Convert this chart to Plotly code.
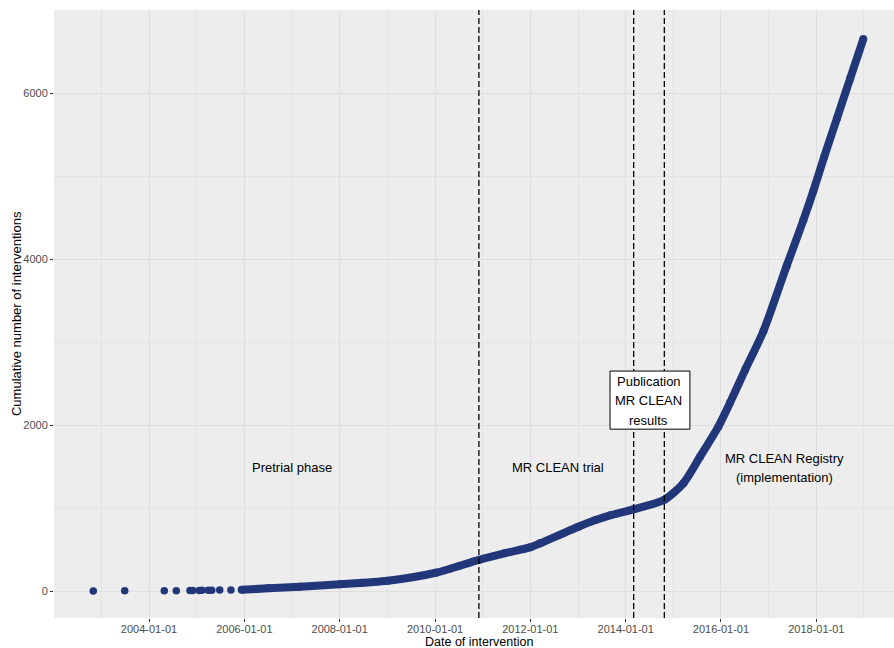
import plotly.graph_objects as go

# Early, sparsely spaced interventions (one dot each)
early_dates = ["2002-10-31", "2003-06-29", "2004-04-27", "2004-07-28", "2004-11-10",
               "2004-12-01", "2005-01-20", "2005-02-10", "2005-03-30", "2005-04-26",
               "2005-06-26", "2005-09-20"]
early_counts = [1, 2, 3, 4, 5, 6, 7, 8, 9, 10, 11, 12]

# Cumulative count from the point where interventions become dense
dense_dates = ["2005-12-11", "2006-07-01", "2007-03-03", "2008-01-04", "2009-01-03",
               "2010-01-06", "2010-12-03", "2011-06-21", "2011-12-30", "2012-03-16",
               "2013-01-03", "2013-05-15", "2013-09-10", "2014-03-01", "2014-10-24",
               "2015-03-19", "2015-07-25", "2015-12-12", "2016-03-11", "2016-07-04",
               "2016-11-21", "2017-05-19", "2017-09-24", "2017-12-09", "2018-03-01",
               "2018-06-07", "2018-09-17", "2018-12-27"]
dense_counts = [14, 33, 52, 81, 124,
                220, 375, 456, 526, 575,
                775, 855, 915, 984, 1100,
                1298, 1618, 1980, 2270, 2665,
                3130, 3920, 4470, 4820, 5225,
                5690, 6175, 6650]

# Study phase boundaries
phase_dates = ["2010-12-03", "2014-03-03", "2014-10-24"]

x_tick_vals = ["2004-01-01", "2006-01-01", "2008-01-01", "2010-01-01",
               "2012-01-01", "2014-01-01", "2016-01-01", "2018-01-01"]
x_minor_vals = ["2003-01-01", "2005-01-01", "2007-01-01", "2009-01-01", "2011-01-01",
                "2013-01-01", "2015-01-01", "2017-01-01", "2019-01-01"]
y_tick_vals = [0, 2000, 4000, 6000]
y_minor_vals = [1000, 3000, 5000]

NAVY = "#22377A"
FONT = "Liberation Sans, Arial, sans-serif"

fig = go.Figure()

fig.add_trace(go.Scatter(
    x=early_dates, y=early_counts, mode="markers",
    marker=dict(size=7.5, color=NAVY, line=dict(width=0)),
    showlegend=False, hoverinfo="x+y"))

fig.add_trace(go.Scatter(
    x=dense_dates, y=dense_counts, mode="lines+markers",
    line=dict(color=NAVY, width=8, shape="spline", smoothing=0.7),
    marker=dict(size=8, color=NAVY, line=dict(width=0)),
    showlegend=False, hoverinfo="x+y"))

for d in phase_dates:
    fig.add_shape(type="line", xref="x", yref="paper", x0=d, x1=d, y0=0, y1=1,
                  line=dict(color="black", width=1.3, dash="6px,3px"))

# Box around the publication label
fig.add_shape(type="rect", xref="x", yref="y",
              x0="2013-09-03", x1="2015-05-08", y0=1950, y1=2650,
              line=dict(color="black", width=1), fillcolor="white", layer="above")

def label(text, x, y):
    fig.add_annotation(x=x, y=y, xref="x", yref="y", text=text, showarrow=False,
                       font=dict(family=FONT, size=13, color="black"))

label("Pretrial phase", "2007-01-01", 1494)
label("MR CLEAN trial", "2012-08-03", 1494)
label("Publication", "2014-06-28", 2530)
label("MR CLEAN", "2014-06-28", 2300)
label("results", "2014-06-28", 2060)
label("MR CLEAN Registry", "2017-05-05", 1602)
label("(implementation)", "2017-05-05", 1373)

# Axis titles
fig.add_annotation(x=0.5054, y=-0.0395, xref="paper", yref="paper",
                   text="Date of intervention", showarrow=False,
                   xanchor="center", yanchor="middle",
                   font=dict(family=FONT, size=12.5, color="black"))
fig.add_annotation(x=-0.0452, y=0.5, xref="paper", yref="paper",
                   text="Cumulative number of interventions", showarrow=False,
                   textangle=-90, xanchor="center", yanchor="middle",
                   font=dict(family=FONT, size=13, color="black"))

fig.update_layout(
    width=894, height=648,
    margin=dict(l=54, r=0, t=10, b=30),
    paper_bgcolor="white", plot_bgcolor="#EDEDED",
    font=dict(family=FONT),
    xaxis=dict(
        type="date", range=["2002-01-03", "2019-08-19"],
        tickmode="array", tickvals=x_tick_vals, ticktext=x_tick_vals,
        tickfont=dict(size=11, color="#4D4D4D"), ticklabelstandoff=-2,
        ticks="outside", ticklen=3, tickcolor="#333333", tickwidth=1,
        showgrid=True, gridcolor="#DEDEDE", gridwidth=1, zeroline=False, showline=False,
        minor=dict(tickmode="array", tickvals=x_minor_vals, showgrid=True,
                   gridcolor="#E3E3E3", gridwidth=0.8, ticklen=0),
    ),
    yaxis=dict(
        range=[-325, 7000],
        tickmode="array", tickvals=y_tick_vals, ticktext=[str(v) for v in y_tick_vals],
        tickfont=dict(size=11, color="#4D4D4D"),
        ticks="outside", ticklen=3, tickcolor="#333333", tickwidth=1,
        showgrid=True, gridcolor="#DEDEDE", gridwidth=1, zeroline=False, showline=False,
        minor=dict(tickmode="array", tickvals=y_minor_vals, showgrid=True,
                   gridcolor="#E3E3E3", gridwidth=0.8, ticklen=0),
    ),
)

fig.write_html("out.html")
